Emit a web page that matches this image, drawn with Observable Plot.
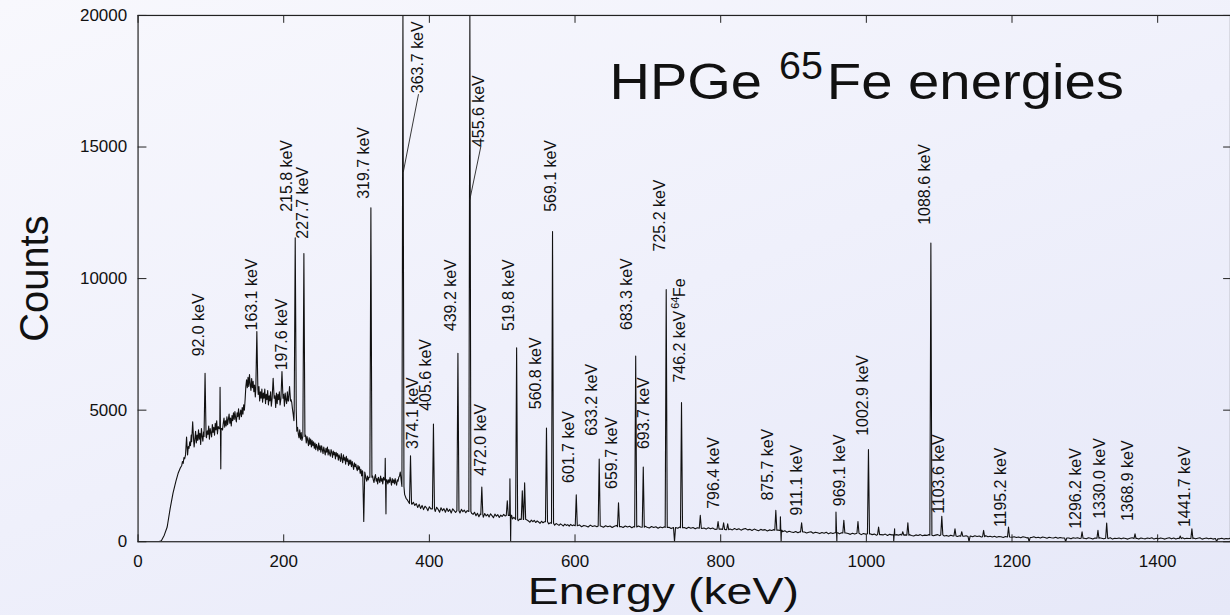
<!DOCTYPE html>
<html><head><meta charset="utf-8">
<script src="https://cdn.jsdelivr.net/npm/d3@7"></script>
<script src="https://cdn.jsdelivr.net/npm/@observablehq/plot@0.6"></script>
<style>
html,body{margin:0;padding:0;width:1230px;height:615px;overflow:hidden;}
body{background:linear-gradient(160deg,#f8f8fd 0%,#eff0fb 50%,#e6e8f8 100%);}
#chart svg{display:block;}
</style></head><body><div id="chart"></div>
<script>
// ---- data ----
const xTicks = [0, 200, 400, 600, 800, 1000, 1200, 1400];
const yTicks = [0, 5000, 10000, 15000, 20000];

// low-energy threshold rise (energy keV, counts)
const riseE = [0, 28, 32, 36, 40, 44, 48, 52, 55, 58];
const riseC = [0, 0, 40, 250, 560, 1250, 1850, 2300, 2600, 2800];

// continuum channels: segment start energy and channel width (keV)
const segStart = [60, 362, 603];
const segStep = [1, 2, 3];
// segment A: 60 ... 360 keV, 1 keV channels
const segA = [
2900,3050,2980,3200,3150,3300,3250,3500,3380,3620,3550,3800, // 60-71
3650,4050,3720,3980,4150,3600,3900,4200,3750,4050, // 72-81
3850,4250,3900,4120,3700,4300,4000,3820,4180,3950, // 82-91
4100,4350,3950,4220,4080,4400,3900,4300,4150,3980, // 92-101
4450,4150,4350,4050,4500,4250,4600,4100,4380,4200, // 102-111
4550,4300,4450,4650,4250,4500,4700,4350,4600,4400, // 112-121
4750,4450,4650,4850,4500,4700,4400,4800,4600,4900, // 122-131
4650,4950,4700,4550,4900,4750,5050,4650,4850,5000, // 132-141
4750,5100,4850,5200,5000, // 142-146
5400,5900,6150,5850, // 147-150
6250,5900,6350,6000,5750,6200,5850,6100,5700,5950, // 151-160
5500,5850,5400,5750,5600,5900,5350,5700,5450,5800, // 161-170
5300,5650,5450,5800,5250,5600,5400,5750,5200,5550, // 171-180
5350,5700,5150,5600,5400,5750,5300,5550,5100,5650, // 181-190
5250,5600,5400,5700,5200,5550,5350,5750,5300,5600, // 191-200
5150,5650,5400,5250,5700,5350,5550,5200,5600,5400, // 201-210
5300,5050,4850,4600,4500,4300,4450,4200,4350,4100, // 211-220
3950,4250,3900,4150,3850,4100,3950,4200,3800,4050, // 221-230
3750,4000,3850,3650,3950,3700,3900,3600,3850,3650, // 231-240
3800,3550,3750,3500,3700,3600,3450,3750,3500,3650, // 241-250
3400,3650,3500,3350,3600,3450,3300,3550,3400,3600, // 251-260
3300,3500,3350,3250,3500,3400,3200,3450,3300,3400, // 261-270
3150,3400,3250,3350,3100,3300,3200,3050,3350,3150, // 271-280
3000,3300,3100,3200,2950,3250,3050,3150,2900,3100, // 281-290
2950,3100,2850,3050,2900,2750,3000,2850,2950,2800, // 291-300
2700,2900,2750,2850,2600,2750,2500,2700,2550,2450, // 301-310
2350,2550,2400,2300,2500,2350,2450,2250,2500,2400, // 311-320
2300,2500,2350,2250,2450,2550,2300,2400,2200,2450, // 321-330
2350,2250,2500,2300,2400,2200,2450,2350,2250,2400, // 331-340
2300,2450,2200,2350,2250,2450,2300,2150,2400,2250, // 341-350
2350,2200,2400,2250,2150,2350,2300,2450,2500,2650  // 351-360
];
// segment B: 362 ... 600 keV, 2 keV channels
const segB = [
2450,2100,1800,1650,1580,1480,1550,1420,1500,1380,
1450,1300,1420,1260,1380,1220,1350,1290,1180,1330,
1250,1360,1200,1150,1310,1230,1120,1290,1180,1260,
1120,1270,1150,1230,1090,1250,1180,1110,1240,1160,
1090,1230,1140,1200,1100,1180,1250,1150,1080,1040,
1120,990,1080,950,1060,1000,930,1070,980,1040,
940,1060,990,910,1050,970,1030,920,1010,960,
1040,980,1100,1000,950,900,870,930,840,880,
800,860,840,780,850,770,830,790,740,820,
760,810,730,790,750,700,780,720,760,740,
700,680,720,650,700,630,690,660,620,680,
640,600,670,620,650,590,660,610,640,620
];
// segment C: 603 ... 1500 keV, 3 keV channels
const segC = [
590,640,570,620,600,560,630,580,610,570,
620,590,550,610,570,600,540,590,620,560,
580,540,600,560,590,530,580,550,600,560,
540,590,550,520,580,540,570,510,560,530,
570,520,550,500,560,530,510,560,520,540,
500,550,510,540,490,530,560,500,520,480,
530,490,520,470,510,540,480,500,460,510,
480,450,500,460,490,440,480,500,450,470,
430,480,450,420,470,440,460,410,450,430,
460,420,440,400,380,420,360,400,370,350,
390,340,380,350,370,330,360,380,320,360,
340,310,350,320,360,300,340,310,350,320,
300,340,290,330,310,280,320,290,330,300,
270,310,290,260,300,270,290,250,290,270,
260,290,240,280,260,230,270,250,280,240,
260,230,270,240,220,260,240,270,230,250,
240,270,260,230,250,270,230,260,220,240,
210,250,220,240,200,230,250,210,230,200,
220,190,230,200,220,180,210,230,190,210,
180,210,170,200,190,160,200,180,210,170,
190,160,180,150,190,170,140,180,160,190,
150,170,140,180,160,130,170,150,140,170,
130,160,140,120,160,140,110,150,130,150,
120,150,130,110,150,130,100,140,120,150,
130,110,140,120,150,100,130,120,140,110,
140,120,100,130,150,110,130,100,140,120,
110,140,120,150,100,130,110,140,120,100,
130,150,110,140,100,130,120,150,110,130,
120,100,140,110,130,150,100,120,140,110,
130,100,120,140,110,130,100,120,110,130
];

// peaks and glitches (energy, top counts, local base counts)
const peakE    = [66.6,75.0,92.0,112.6,113.6,163.1,185.5,197.6,208.0,215.8,227.7,309.9,319.7,339.4,340.4,363.7,374.1,405.6,439.2,455.6,472.0,507.0,510.6,511.6,519.8,527.6,530.8,560.8,569.1,601.7,633.2,659.7,683.3,693.7,725.2,736.6,746.2,772.0,796.4,804.0,809.6,875.7,882.0,883.0,911.1,958.3,959.5,969.1,988.5,1002.9,1016.8,1037.6,1038.8,1050.0,1057.0,1088.6,1103.6,1121.7,1131.0,1141.0,1161.0,1195.2,1223.5,1273.7,1296.2,1318.0,1330.0,1368.9,1431.0,1447.0,1481.0];
const peakTop  = [3980,4560,6400,5870,2770,7990,6210,6470,5900,11550,10950,770,12690,3170,1060,45000,3270,4470,7160,45000,2080,1560,2390,0,7370,1940,2235,4320,11790,1780,3140,1480,7060,2840,9580,0,5290,1000,770,720,680,1190,950,0,720,1125,0,810,770,3500,555,20,490,380,720,11350,970,490,380,0,430,560,0,0,380,430,710,300,220,490,0];
const peakBase = [3300,3800,4000,4300,4300,5800,5450,5450,5350,5000,4000,2650,2450,2350,2350,2100,1450,1250,1180,1150,1030,1000,1000,1000,850,850,850,760,700,610,600,570,560,550,540,540,530,510,480,470,460,440,430,430,370,340,340,330,320,300,270,260,260,250,250,250,260,220,210,200,190,180,160,140,130,130,130,120,120,120,110];

// peak labels
const labelText = ["92.0 keV","163.1 keV","197.6 keV","215.8 keV","227.7 keV","319.7 keV","363.7 keV","455.6 keV","374.1 keV","405.6 keV","439.2 keV","472.0 keV","519.8 keV","560.8 keV","569.1 keV","601.7 keV","633.2 keV","659.7 keV","683.3 keV","693.7 keV","725.2 keV","746.2 keV","796.4 keV","875.7 keV","911.1 keV","969.1 keV","1002.9 keV","1088.6 keV","1103.6 keV","1195.2 keV","1296.2 keV","1330.0 keV","1368.9 keV","1441.7 keV","Fe"];
const labelE = [83.5,155.7,198.1,204.7,226.3,309.8,383.8,468.2,376.9,395.3,429.5,470.6,509.3,545.9,567.2,591.5,623.4,650.7,671.3,694.1,717.0,744.4,790.0,865.3,904.0,963.4,995.3,1079.8,1099.0,1184.7,1287.4,1320.2,1359.5,1438.0,744.4];
const labelC = [7046,8031,6515,12538,11516,13031,17046,15000,3523,4974,8004,2511,8004,5038,12538,2235,4027,2008,8042,3523,11034,6050,1250,1564,996,1352,4027,12046,1061,557,492,871,784,557,9300];
// superscript mass number for the 746.2 keV line
const supText = ["64"];
const supE = [738.5];
const supC = [8850];
// leader lines from labels to the two clipped peaks
const leaderE1 = [385.1, 470.6];
const leaderC1 = [17008, 15012];
const leaderE2 = [364.2, 455.5];
const leaderC2 = [14053, 12993];

// ---- build ----
const contE = [...riseE], contC = [...riseC];
[segA, segB, segC].forEach((seg, s) => seg.forEach((c, i) => { contE.push(segStart[s] + i * segStep[s]); contC.push(c); }));

const HW = 1.4;
const spectrum = [];
contE.forEach((e, i) => {
  if (!peakE.some(p => Math.abs(p - e) < 1.8)) spectrum.push({e, c: contC[i]});
});
peakE.forEach((e, i) => {
  spectrum.push({e: e - HW, c: peakBase[i]}, {e, c: peakTop[i]}, {e: e + HW, c: peakBase[i]});
});
spectrum.sort((a, b) => a.e - b.e);

const labels = labelText.map((t, i) => ({t, e: labelE[i], c: labelC[i]}));
const sups = supText.map((t, i) => ({t, e: supE[i], c: supC[i]}));
const leaders = leaderE1.map((e, i) => ({x1: e, y1: leaderC1[i], x2: leaderE2[i], y2: leaderC2[i]}));

const font = "'Liberation Sans', Arial, Helvetica, sans-serif";
const fmt = d3.format("d");
const tickShape = {draw(context, l) { context.moveTo(0, 0); context.lineTo(0, -l); }};
const tickOpts = {anchor: "start", shape: tickShape, stroke: "#222", strokeWidth: 1};

const chart = Plot.plot({
  width: 1234, height: 615,
  marginLeft: 138, marginRight: 0, marginTop: 15, marginBottom: 72,
  style: {background: "transparent", fontFamily: font, fontSize: "17px", color: "#111", overflow: "visible"},
  x: {domain: [0, 1500], axis: null},
  y: {domain: [0, 20000], clamp: true, axis: null},
  marks: [
    Plot.line(spectrum, {x: "e", y: "c", stroke: "#111", strokeWidth: 1.1, clip: true}),
    Plot.link(leaders, {x1: "x1", y1: "y1", x2: "x2", y2: "y2", stroke: "#222", strokeWidth: 0.9}),
    Plot.text(labels, {x: "e", y: "c", text: "t", rotate: -90, textAnchor: "start", lineAnchor: "middle", fontSize: 16, fill: "#111"}),
    Plot.text(sups, {x: "e", y: "c", text: "t", rotate: -90, textAnchor: "start", lineAnchor: "middle", fontSize: 11, fill: "#111"}),
    // inward ticks on all four sides
    Plot.vector(xTicks, {x: d => d, frameAnchor: "bottom", length: 7, rotate: 0, ...tickOpts}),
    Plot.vector(xTicks, {x: d => d, frameAnchor: "top", length: 7, rotate: 180, ...tickOpts}),
    Plot.vector(yTicks, {y: d => d, frameAnchor: "left", length: 8, rotate: 90, ...tickOpts}),
    Plot.vector(yTicks, {y: d => d, frameAnchor: "right", length: 7, rotate: -90, ...tickOpts}),
    // tick labels
    Plot.text(xTicks, {x: d => d, frameAnchor: "bottom", dy: 13, lineAnchor: "top", textAnchor: "middle", text: fmt, fill: "#111"}),
    Plot.text(yTicks, {y: d => d, frameAnchor: "left", dx: -11, lineAnchor: "middle", textAnchor: "end", text: fmt, fill: "#111"}),
    Plot.frame({stroke: "#222", strokeWidth: 1.2}),
    Plot.text(["Counts"], {frameAnchor: "left", dx: -103, rotate: -90, textAnchor: "middle", lineAnchor: "middle", fontSize: 40, fill: "#111"}),
    Plot.text(["Energy (keV)"], {frameAnchor: "bottom", dx: -21, dy: 62, textAnchor: "middle", lineAnchor: "bottom", fontSize: 37, fill: "#111"}),
    Plot.text(["HPGe"], {frameAnchor: "top-left", dx: 473, dy: 84, textAnchor: "start", lineAnchor: "bottom", fontSize: 50, fill: "#111"}),
    Plot.text(["65"], {frameAnchor: "top-left", dx: 643, dy: 64, textAnchor: "start", lineAnchor: "bottom", fontSize: 38, fill: "#111"}),
    Plot.text(["Fe energies"], {frameAnchor: "top-left", dx: 691, dy: 84, textAnchor: "start", lineAnchor: "bottom", fontSize: 50, fill: "#111"})
  ]
});

// horizontally widened glyphs, as in the reference
const widths = {"HPGe": 153, "65": 44, "Fe energies": 298, "Energy (keV)": 272};
chart.querySelectorAll("text").forEach(t => {
  const w = widths[t.textContent];
  if (w) { t.setAttribute("textLength", w); t.setAttribute("lengthAdjust", "spacingAndGlyphs"); }
});
document.getElementById("chart").append(chart);
</script>
</body></html>
